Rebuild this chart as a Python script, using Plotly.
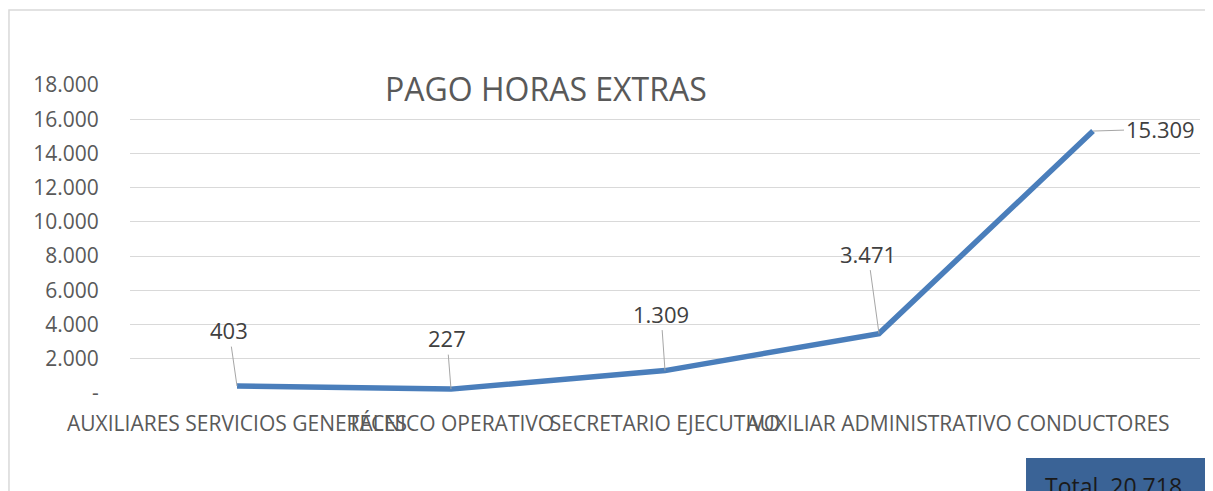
import plotly.graph_objects as go

# datos del gráfico
categorias = ["AUXILIARES SERVICIOS GENERALES", "TÉCNICO OPERATIVO",
              "SECRETARIO EJECUTIVO", "AUXILIAR ADMINISTRATIVO", "CONDUCTORES"]
valores = [403, 227, 1309, 3471, 15309]
etiquetas = ["403", "227", "1.309", "3.471", "15.309"]
tick_vals = [0, 2000, 4000, 6000, 8000, 10000, 12000, 14000, 16000, 18000]
tick_text = ["-", "2.000", "4.000", "6.000", "8.000", "10.000", "12.000",
             "14.000", "16.000", "18.000"]
total_texto = "Total  20.718"

# desplazamientos de las etiquetas (px)
offsets = [(-8, -56), (-4, -51), (-4, -57), (-11, -80), (67, -2)]

FONT = "Open Sans"
GRIS = "#595959"

fig = go.Figure()

fig.add_trace(go.Scatter(
    x=list(range(len(categorias))),
    y=valores,
    mode="lines",
    line=dict(color="#4A7EBB", width=5.5),
    hoverinfo="skip",
    showlegend=False,
))

for i, (v, t) in enumerate(zip(valores, etiquetas)):
    ax, ay = offsets[i]
    fig.add_annotation(
        x=i, y=v, text=t, showarrow=True, arrowhead=0, arrowwidth=1,
        arrowcolor="#A6A6A6", ax=ax, ay=ay, standoff=0,
        font=dict(family=FONT, size=22, color="#404040"),
    )

# título
fig.add_annotation(
    x=0.2364, y=0.99, xref="paper", yref="paper", xanchor="left",
    yanchor="middle", text="PAGO HORAS EXTRAS", showarrow=False,
    font=dict(family=FONT, size=32, color=GRIS),
)

# marco del gráfico
fig.add_shape(type="rect", xref="paper", yref="paper",
              x0=-0.1131, x1=1.05, y0=-0.4, y1=1.2435,
              line=dict(color="#D9D9D9", width=1.5), layer="below")

# caja del total
fig.add_shape(type="rect", xref="paper", yref="paper",
              x0=0.8374, x1=1.05, y0=-0.4, y1=-0.211,
              line=dict(width=0), fillcolor="#3A6396")
fig.add_annotation(
    x=0.853, y=-0.245, xref="paper", yref="paper", xanchor="left",
    yanchor="top", text=total_texto, showarrow=False,
    font=dict(family=FONT, size=23, color="#1a1a1a"),
)

# la página añade 8 px de margen; se compensa aquí
fig.update_layout(
    width=1205, height=483,
    margin=dict(l=122, r=13, t=77, b=98),
    plot_bgcolor="white", paper_bgcolor="white",
    showlegend=False,
    xaxis=dict(
        range=[-0.5, len(categorias) - 0.5],
        tickvals=list(range(len(categorias))), ticktext=categorias,
        tickangle=0, showgrid=False, zeroline=False,
        ticks="outside", ticklen=12, tickcolor="rgba(0,0,0,0)",
        tickfont=dict(family=FONT, size=21, color=GRIS),
    ),
    yaxis=dict(
        range=[0, 18000], tickvals=tick_vals, ticktext=tick_text,
        showgrid=True, gridcolor="#D9D9D9", gridwidth=1, zeroline=False,
        ticks="outside", ticklen=26, tickcolor="rgba(0,0,0,0)",
        tickfont=dict(family=FONT, size=21, color=GRIS),
    ),
)

fig.write_html("out.html")
